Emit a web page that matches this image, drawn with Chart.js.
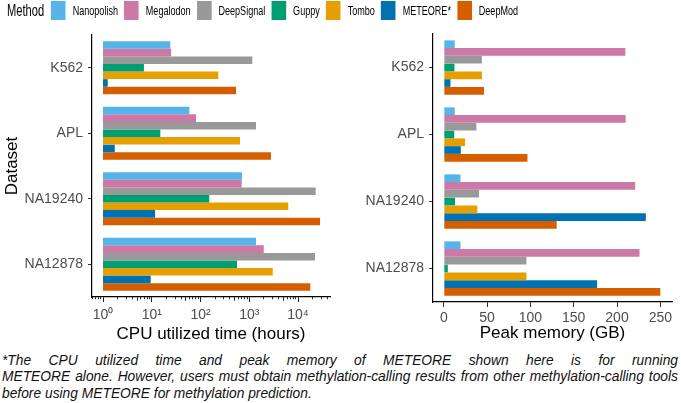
<!DOCTYPE html>
<html>
<head>
<meta charset="utf-8">
<script src="https://cdn.jsdelivr.net/npm/chart.js@4.4.0/dist/chart.umd.min.js"></script>
<style>
  body { margin: 0; width: 681px; height: 403px; overflow: hidden; position: relative; background: #fff;
         font-family: "Liberation Sans", Arial, sans-serif; }
  canvas { position: absolute; top: 0; }
  #cpu { left: 0; }
  #mem { left: 340px; }
  #legend { position: absolute; left: 7px; top: 1px; height: 19px; display: flex; align-items: center;
            white-space: nowrap; transform-origin: 0 0; z-index: 2; color: #000; }
  #legend .title { font-size: 16px; margin-right: 10px; }
  #legend .key { width: 21px; height: 19px; margin-right: 10px; }
  #legend .lab { font-size: 13px; margin-right: 9px; }
  #note { position: absolute; left: 2px; top: 353px; width: 676px; font-style: italic; font-size: 13.8px;
          line-height: 16.3px; color: #111; }
  #note div.j { text-align: justify; text-align-last: justify; }
</style>
</head>
<body>
<div id="legend"></div>
<canvas id="cpu" width="340" height="350"></canvas>
<canvas id="mem" width="341" height="350"></canvas>
<div id="note">
  <div class="j">*The CPU utilized time and peak memory of METEORE shown here is for running</div>
  <div class="j">METEORE alone. However, users must obtain methylation-calling results from other methylation-calling tools</div>
  <div>before using METEORE for methylation prediction.</div>
</div>
<script>
const cellLines = ["K562", "APL", "NA19240", "NA12878"];
const methods = ["Nanopolish", "Megalodon", "DeepSignal", "Guppy", "Tombo", "METEORE*", "DeepMod"];
const methodColors = ["#56B4E9", "#CC79A7", "#999999", "#009E73", "#E69F00", "#0072B2", "#D55E00"];

// CPU utilized time (hours), per cell line
const cpuNanopolish = [24, 59, 710, 1375];
const cpuMegalodon = [25, 81, 700, 1980];
const cpuDeepSignal = [1155, 1375, 23000, 22300];
const cpuGuppy = [6.9, 15, 151, 560];
const cpuTombo = [232, 646, 6300, 3030];
const cpuMeteore = [1.25, 1.74, 11.7, 9.5];
const cpuDeepMod = [535, 2790, 28300, 17900];

// peak memory (GB), per cell line
const memNanopolish = [12.6, 12.6, 19.2, 19.2];
const memMegalodon = [209.6, 210, 221, 226];
const memDeepSignal = [44, 37.6, 40.7, 95.4];
const memGuppy = [12.3, 12, 13, 4.6];
const memTombo = [44, 24.6, 38.7, 95.4];
const memMeteore = [7.7, 19.6, 233.3, 177];
const memDeepMod = [46.4, 96.6, 130.3, 250];

const memTicks = [0, 50, 100, 150, 200, 250];

Chart.defaults.font.family = '"Liberation Sans", Arial, sans-serif';

// legend across the top (squeezed sideways like the original)
const legend = document.getElementById("legend");
legend.innerHTML = '<span class="title">Method</span>' + methods.map((m, i) =>
  '<span class="key" style="background:' + methodColors[i] + '"></span><span class="lab">' + m + '</span>').join("");
legend.style.transform = "scaleX(" + (511 / (legend.scrollWidth - 9)) + ")";

function barSets(lists, floating) {
  return methods.map((m, i) => ({
    label: m,
    data: floating ? lists[i].map(v => [1, v]) : lists[i],
    backgroundColor: methodColors[i],
    borderWidth: 0,
    categoryPercentage: 0.81,
    barPercentage: 1.0,
  }));
}

function isDecade(v) {
  const l = Math.log10(v);
  return Math.abs(l - Math.round(l)) < 1e-9;
}
const sup = ["⁰", "¹", "²", "³", "⁴"];

function yAxis(width, withTitle) {
  return {
    afterFit: s => { s.width = width; },
    border: { color: "#000", width: 1.2 },
    grid: { offset: false, drawOnChartArea: false, tickLength: 4, tickColor: "#333" },
    ticks: { padding: 5, color: "#4d4d4d", font: { size: 14 } },
    title: { display: withTitle, text: "Dataset", color: "#000", font: { size: 17 }, padding: { top: 2, bottom: 4 } },
  };
}

new Chart(document.getElementById("cpu"), {
  type: "bar",
  data: { labels: cellLines, datasets: barSets([cpuNanopolish, cpuMegalodon, cpuDeepSignal, cpuGuppy, cpuTombo, cpuMeteore, cpuDeepMod], true) },
  options: {
    indexAxis: "y",
    responsive: false,
    animation: false,
    layout: { padding: { top: 35, right: 10, left: 0, bottom: 0 } },
    plugins: { legend: { display: false }, tooltip: { enabled: false } },
    scales: {
      x: {
        type: "logarithmic",
        min: 0.594,
        max: 45300,
        afterBuildTicks: s => {
          const t = [];
          for (let e = -1; e <= 4; e++) {
            for (let k = 1; k <= 9; k++) {
              const v = k * Math.pow(10, e);
              if (v >= s.min && v <= s.max) t.push({ value: v });
            }
          }
          s.ticks = t;
        },
        afterFit: s => { s.height = 53; },
        border: { color: "#000", width: 1.2 },
        grid: {
          drawOnChartArea: false,
          tickLength: 5,
          tickColor: "#222",
          tickBorderDash: ctx => {
            const v = ctx.tick.value;
            if (isDecade(v)) return [];
            return isDecade(v * 2) ? [3.5, 50] : [2, 50];
          },
        },
        ticks: {
          autoSkip: false,
          maxRotation: 0,
          minRotation: 0,
          padding: 5,
          color: "#4d4d4d",
          font: { size: 14 },
          callback: v => isDecade(v) ? "10" + sup[Math.round(Math.log10(v))] : "",
        },
        title: { display: true, text: "CPU utilized time (hours)", color: "#000", font: { size: 17 }, padding: { top: 0, bottom: 5 } },
      },
      y: yAxis(92, true),
    },
  },
});

new Chart(document.getElementById("mem"), {
  type: "bar",
  data: { labels: cellLines, datasets: barSets([memNanopolish, memMegalodon, memDeepSignal, memGuppy, memTombo, memMeteore, memDeepMod], false) },
  options: {
    indexAxis: "y",
    responsive: false,
    animation: false,
    layout: { padding: { top: 34, right: 9, left: 0, bottom: 0 } },
    plugins: { legend: { display: false }, tooltip: { enabled: false } },
    scales: {
      x: {
        type: "linear",
        min: -12.5,
        max: 263.5,
        afterBuildTicks: s => { s.ticks = memTicks.map(v => ({ value: v })); },
        afterFit: s => { s.height = 48; },
        border: { color: "#000", width: 1.2 },
        grid: { drawOnChartArea: false, tickLength: 5, tickColor: "#333" },
        ticks: { autoSkip: false, maxRotation: 0, padding: 3, color: "#4d4d4d", font: { size: 14 } },
        title: { display: true, text: "Peak memory (GB)", color: "#000", font: { size: 17 }, padding: { top: 0, bottom: 6 } },
      },
      y: yAxis(93, false),
    },
  },
});
</script>
</body>
</html>
